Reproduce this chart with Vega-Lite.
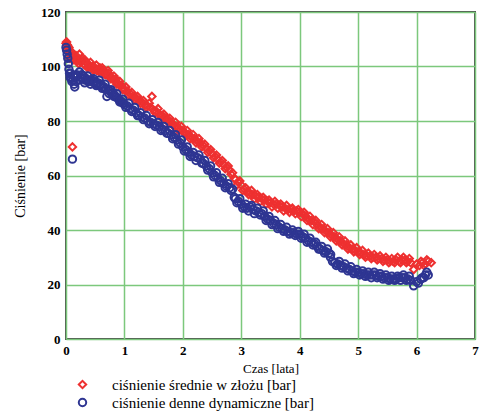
{
  "$schema": "https://vega.github.io/schema/vega-lite/v6.json",
  "width": 409,
  "height": 327,
  "autosize": {"type": "none"},
  "padding": {"left": 66, "top": 12, "right": 9, "bottom": 72},
  "background": "white",
  "config": {
    "view": {"stroke": "#4d4d4d", "strokeWidth": 2},
    "font": "'Liberation Serif', 'Times New Roman', 'DejaVu Serif', serif"
  },
  "datasets": {
    "pts": [
      {"czas":0.00,"p":108.5,"seria":"A"},{"czas":0.01,"p":109,"seria":"A"},{"czas":0.02,"p":108,"seria":"A"},{"czas":0.03,"p":107.5,"seria":"A"},{"czas":0.04,"p":106.5,"seria":"A"},{"czas":0.05,"p":107,"seria":"A"},{"czas":0.06,"p":105,"seria":"A"},{"czas":0.07,"p":103,"seria":"A"},{"czas":0.08,"p":104,"seria":"A"},{"czas":0.09,"p":105.5,"seria":"A"},{"czas":0.10,"p":103.5,"seria":"A"},{"czas":0.11,"p":70.5,"seria":"A"},{"czas":0.12,"p":104.5,"seria":"A"},{"czas":0.13,"p":102.5,"seria":"A"},{"czas":0.15,"p":103,"seria":"A"},{"czas":0.17,"p":104,"seria":"A"},{"czas":0.18,"p":102,"seria":"A"},{"czas":0.20,"p":102.5,"seria":"A"},{"czas":0.22,"p":101,"seria":"A"},{"czas":0.23,"p":104.5,"seria":"A"},{"czas":0.25,"p":101.5,"seria":"A"},{"czas":0.27,"p":103,"seria":"A"},{"czas":0.28,"p":102,"seria":"A"},{"czas":0.30,"p":101,"seria":"A"},{"czas":0.32,"p":102.5,"seria":"A"},{"czas":0.33,"p":100.5,"seria":"A"},{"czas":0.35,"p":101.5,"seria":"A"},{"czas":0.37,"p":99.5,"seria":"A"},{"czas":0.38,"p":100,"seria":"A"},{"czas":0.40,"p":100.5,"seria":"A"},{"czas":0.42,"p":101.5,"seria":"A"},{"czas":0.43,"p":99.5,"seria":"A"},{"czas":0.45,"p":100,"seria":"A"},{"czas":0.47,"p":98.5,"seria":"A"},{"czas":0.48,"p":99,"seria":"A"},{"czas":0.50,"p":99.5,"seria":"A"},{"czas":0.52,"p":100.5,"seria":"A"},{"czas":0.53,"p":98.5,"seria":"A"},{"czas":0.55,"p":99,"seria":"A"},{"czas":0.57,"p":98,"seria":"A"},{"czas":0.58,"p":99.5,"seria":"A"},{"czas":0.60,"p":98.5,"seria":"A"},{"czas":0.62,"p":99.5,"seria":"A"},{"czas":0.63,"p":98,"seria":"A"},{"czas":0.65,"p":98.5,"seria":"A"},{"czas":0.67,"p":97,"seria":"A"},{"czas":0.68,"p":97.5,"seria":"A"},{"czas":0.70,"p":97,"seria":"A"},{"czas":0.72,"p":98.5,"seria":"A"},{"czas":0.73,"p":97.5,"seria":"A"},{"czas":0.75,"p":96.5,"seria":"A"},{"czas":0.77,"p":95.5,"seria":"A"},{"czas":0.78,"p":96,"seria":"A"},{"czas":0.80,"p":95.5,"seria":"A"},{"czas":0.82,"p":96.5,"seria":"A"},{"czas":0.83,"p":95,"seria":"A"},{"czas":0.85,"p":95.5,"seria":"A"},{"czas":0.87,"p":93.5,"seria":"A"},{"czas":0.88,"p":94,"seria":"A"},{"czas":0.90,"p":93.5,"seria":"A"},{"czas":0.92,"p":94.5,"seria":"A"},{"czas":0.93,"p":93,"seria":"A"},{"czas":0.95,"p":93,"seria":"A"},{"czas":0.97,"p":91.5,"seria":"A"},{"czas":0.98,"p":92,"seria":"A"},{"czas":1.00,"p":91.5,"seria":"A"},{"czas":1.025,"p":92.5,"seria":"A"},{"czas":1.05,"p":91,"seria":"A"},{"czas":1.075,"p":89.5,"seria":"A"},{"czas":1.10,"p":90,"seria":"A"},{"czas":1.125,"p":90.5,"seria":"A"},{"czas":1.15,"p":89,"seria":"A"},{"czas":1.175,"p":88,"seria":"A"},{"czas":1.20,"p":88.5,"seria":"A"},{"czas":1.225,"p":89,"seria":"A"},{"czas":1.25,"p":87.5,"seria":"A"},{"czas":1.275,"p":86.5,"seria":"A"},{"czas":1.30,"p":87,"seria":"A"},{"czas":1.325,"p":87.5,"seria":"A"},{"czas":1.35,"p":86,"seria":"A"},{"czas":1.375,"p":85,"seria":"A"},{"czas":1.40,"p":85.5,"seria":"A"},{"czas":1.425,"p":86.5,"seria":"A"},{"czas":1.45,"p":85,"seria":"A"},{"czas":1.47,"p":89,"seria":"A"},{"czas":1.50,"p":84,"seria":"A"},{"czas":1.525,"p":83,"seria":"A"},{"czas":1.55,"p":83.5,"seria":"A"},{"czas":1.575,"p":84.5,"seria":"A"},{"czas":1.60,"p":82.5,"seria":"A"},{"czas":1.625,"p":81.5,"seria":"A"},{"czas":1.65,"p":82,"seria":"A"},{"czas":1.675,"p":82.5,"seria":"A"},{"czas":1.70,"p":81,"seria":"A"},{"czas":1.725,"p":80,"seria":"A"},{"czas":1.75,"p":80.5,"seria":"A"},{"czas":1.775,"p":81,"seria":"A"},{"czas":1.80,"p":79.5,"seria":"A"},{"czas":1.825,"p":78.5,"seria":"A"},{"czas":1.85,"p":78.5,"seria":"A"},{"czas":1.875,"p":79.5,"seria":"A"},{"czas":1.90,"p":78,"seria":"A"},{"czas":1.925,"p":76.5,"seria":"A"},{"czas":1.95,"p":77,"seria":"A"},{"czas":1.975,"p":78,"seria":"A"},{"czas":2.00,"p":76.5,"seria":"A"},{"czas":2.025,"p":75.5,"seria":"A"},{"czas":2.05,"p":75.5,"seria":"A"},{"czas":2.075,"p":76.5,"seria":"A"},{"czas":2.10,"p":75,"seria":"A"},{"czas":2.125,"p":73.5,"seria":"A"},{"czas":2.15,"p":74,"seria":"A"},{"czas":2.175,"p":75,"seria":"A"},{"czas":2.20,"p":73.5,"seria":"A"},{"czas":2.225,"p":72,"seria":"A"},{"czas":2.25,"p":72.5,"seria":"A"},{"czas":2.275,"p":73.5,"seria":"A"},{"czas":2.30,"p":72,"seria":"A"},{"czas":2.325,"p":70.5,"seria":"A"},{"czas":2.35,"p":71,"seria":"A"},{"czas":2.375,"p":71.5,"seria":"A"},{"czas":2.40,"p":70,"seria":"A"},{"czas":2.425,"p":68.5,"seria":"A"},{"czas":2.45,"p":69,"seria":"A"},{"czas":2.475,"p":69.5,"seria":"A"},{"czas":2.50,"p":68,"seria":"A"},{"czas":2.525,"p":66.5,"seria":"A"},{"czas":2.55,"p":67,"seria":"A"},{"czas":2.575,"p":67.5,"seria":"A"},{"czas":2.60,"p":66,"seria":"A"},{"czas":2.625,"p":64.5,"seria":"A"},{"czas":2.65,"p":65,"seria":"A"},{"czas":2.675,"p":65.5,"seria":"A"},{"czas":2.70,"p":64,"seria":"A"},{"czas":2.725,"p":62.5,"seria":"A"},{"czas":2.75,"p":63,"seria":"A"},{"czas":2.775,"p":63.5,"seria":"A"},{"czas":2.80,"p":62,"seria":"A"},{"czas":2.825,"p":60.5,"seria":"A"},{"czas":2.85,"p":61,"seria":"A"},{"czas":2.88,"p":59,"seria":"A"},{"czas":2.90,"p":58.5,"seria":"A"},{"czas":2.925,"p":56.5,"seria":"A"},{"czas":2.95,"p":57.5,"seria":"A"},{"czas":2.975,"p":58,"seria":"A"},{"czas":3.00,"p":56.5,"seria":"A"},{"czas":3.025,"p":54.5,"seria":"A"},{"czas":3.05,"p":55,"seria":"A"},{"czas":3.075,"p":55.5,"seria":"A"},{"czas":3.10,"p":54,"seria":"A"},{"czas":3.125,"p":53,"seria":"A"},{"czas":3.15,"p":53.5,"seria":"A"},{"czas":3.175,"p":54.5,"seria":"A"},{"czas":3.20,"p":53,"seria":"A"},{"czas":3.225,"p":51.5,"seria":"A"},{"czas":3.25,"p":52.5,"seria":"A"},{"czas":3.275,"p":53,"seria":"A"},{"czas":3.30,"p":52,"seria":"A"},{"czas":3.325,"p":50.5,"seria":"A"},{"czas":3.35,"p":51.5,"seria":"A"},{"czas":3.375,"p":52,"seria":"A"},{"czas":3.40,"p":51,"seria":"A"},{"czas":3.425,"p":49.5,"seria":"A"},{"czas":3.45,"p":50.5,"seria":"A"},{"czas":3.475,"p":51,"seria":"A"},{"czas":3.50,"p":50,"seria":"A"},{"czas":3.525,"p":48.5,"seria":"A"},{"czas":3.55,"p":49.5,"seria":"A"},{"czas":3.575,"p":50.5,"seria":"A"},{"czas":3.60,"p":49.5,"seria":"A"},{"czas":3.625,"p":48,"seria":"A"},{"czas":3.65,"p":49,"seria":"A"},{"czas":3.675,"p":49.5,"seria":"A"},{"czas":3.70,"p":48.5,"seria":"A"},{"czas":3.725,"p":47,"seria":"A"},{"czas":3.75,"p":48,"seria":"A"},{"czas":3.775,"p":49,"seria":"A"},{"czas":3.80,"p":47.5,"seria":"A"},{"czas":3.825,"p":46.5,"seria":"A"},{"czas":3.85,"p":47.5,"seria":"A"},{"czas":3.875,"p":48,"seria":"A"},{"czas":3.90,"p":47,"seria":"A"},{"czas":3.925,"p":46,"seria":"A"},{"czas":3.95,"p":47,"seria":"A"},{"czas":3.975,"p":47.5,"seria":"A"},{"czas":4.00,"p":46.5,"seria":"A"},{"czas":4.025,"p":45,"seria":"A"},{"czas":4.05,"p":46,"seria":"A"},{"czas":4.075,"p":46.5,"seria":"A"},{"czas":4.10,"p":45,"seria":"A"},{"czas":4.125,"p":43.5,"seria":"A"},{"czas":4.15,"p":44,"seria":"A"},{"czas":4.175,"p":45,"seria":"A"},{"czas":4.20,"p":43.5,"seria":"A"},{"czas":4.225,"p":42,"seria":"A"},{"czas":4.25,"p":43,"seria":"A"},{"czas":4.275,"p":43.5,"seria":"A"},{"czas":4.30,"p":42,"seria":"A"},{"czas":4.325,"p":40.5,"seria":"A"},{"czas":4.35,"p":41,"seria":"A"},{"czas":4.375,"p":42,"seria":"A"},{"czas":4.40,"p":40.5,"seria":"A"},{"czas":4.425,"p":39,"seria":"A"},{"czas":4.45,"p":39.5,"seria":"A"},{"czas":4.475,"p":40.5,"seria":"A"},{"czas":4.50,"p":39,"seria":"A"},{"czas":4.525,"p":37.5,"seria":"A"},{"czas":4.55,"p":38,"seria":"A"},{"czas":4.575,"p":39,"seria":"A"},{"czas":4.60,"p":37.5,"seria":"A"},{"czas":4.625,"p":36,"seria":"A"},{"czas":4.65,"p":36.5,"seria":"A"},{"czas":4.675,"p":37.5,"seria":"A"},{"czas":4.70,"p":36,"seria":"A"},{"czas":4.725,"p":34.5,"seria":"A"},{"czas":4.75,"p":35,"seria":"A"},{"czas":4.775,"p":36,"seria":"A"},{"czas":4.80,"p":34.5,"seria":"A"},{"czas":4.825,"p":33,"seria":"A"},{"czas":4.85,"p":33.5,"seria":"A"},{"czas":4.875,"p":34.5,"seria":"A"},{"czas":4.90,"p":33,"seria":"A"},{"czas":4.925,"p":32,"seria":"A"},{"czas":4.95,"p":32.5,"seria":"A"},{"czas":4.975,"p":33.5,"seria":"A"},{"czas":5.00,"p":32,"seria":"A"},{"czas":5.025,"p":31,"seria":"A"},{"czas":5.05,"p":31.5,"seria":"A"},{"czas":5.075,"p":32.5,"seria":"A"},{"czas":5.10,"p":31,"seria":"A"},{"czas":5.125,"p":30,"seria":"A"},{"czas":5.15,"p":30.5,"seria":"A"},{"czas":5.175,"p":31.5,"seria":"A"},{"czas":5.20,"p":30.5,"seria":"A"},{"czas":5.225,"p":29.5,"seria":"A"},{"czas":5.25,"p":30,"seria":"A"},{"czas":5.275,"p":31,"seria":"A"},{"czas":5.30,"p":30,"seria":"A"},{"czas":5.325,"p":29,"seria":"A"},{"czas":5.35,"p":29.5,"seria":"A"},{"czas":5.375,"p":30.5,"seria":"A"},{"czas":5.40,"p":29.5,"seria":"A"},{"czas":5.425,"p":28.5,"seria":"A"},{"czas":5.45,"p":29,"seria":"A"},{"czas":5.475,"p":30,"seria":"A"},{"czas":5.50,"p":29,"seria":"A"},{"czas":5.525,"p":28,"seria":"A"},{"czas":5.55,"p":28.5,"seria":"A"},{"czas":5.575,"p":29.5,"seria":"A"},{"czas":5.60,"p":28.5,"seria":"A"},{"czas":5.625,"p":28,"seria":"A"},{"czas":5.65,"p":29,"seria":"A"},{"czas":5.675,"p":30,"seria":"A"},{"czas":5.70,"p":28.5,"seria":"A"},{"czas":5.725,"p":28,"seria":"A"},{"czas":5.75,"p":29,"seria":"A"},{"czas":5.775,"p":30,"seria":"A"},{"czas":5.80,"p":29,"seria":"A"},{"czas":5.825,"p":28,"seria":"A"},{"czas":5.85,"p":28.5,"seria":"A"},{"czas":5.875,"p":29.5,"seria":"A"},{"czas":5.90,"p":28,"seria":"A"},{"czas":5.95,"p":25.5,"seria":"A"},{"czas":6.00,"p":27.5,"seria":"A"},{"czas":6.05,"p":27,"seria":"A"},{"czas":6.075,"p":28.5,"seria":"A"},{"czas":6.10,"p":28,"seria":"A"},{"czas":6.125,"p":27,"seria":"A"},{"czas":6.15,"p":27.5,"seria":"A"},{"czas":6.175,"p":29,"seria":"A"},{"czas":6.20,"p":28.5,"seria":"A"},{"czas":6.25,"p":28,"seria":"A"},
      {"czas":0.00,"p":107,"seria":"B"},{"czas":0.01,"p":106,"seria":"B"},{"czas":0.02,"p":104.5,"seria":"B"},{"czas":0.03,"p":103,"seria":"B"},{"czas":0.04,"p":101,"seria":"B"},{"czas":0.05,"p":99,"seria":"B"},{"czas":0.06,"p":97.5,"seria":"B"},{"czas":0.07,"p":96,"seria":"B"},{"czas":0.08,"p":97.5,"seria":"B"},{"czas":0.09,"p":95.5,"seria":"B"},{"czas":0.10,"p":94.5,"seria":"B"},{"czas":0.11,"p":66,"seria":"B"},{"czas":0.12,"p":95,"seria":"B"},{"czas":0.13,"p":96.5,"seria":"B"},{"czas":0.14,"p":93.5,"seria":"B"},{"czas":0.15,"p":92.5,"seria":"B"},{"czas":0.16,"p":96,"seria":"B"},{"czas":0.17,"p":94.5,"seria":"B"},{"czas":0.18,"p":97,"seria":"B"},{"czas":0.20,"p":96.5,"seria":"B"},{"czas":0.22,"p":95,"seria":"B"},{"czas":0.23,"p":98,"seria":"B"},{"czas":0.25,"p":96,"seria":"B"},{"czas":0.27,"p":97,"seria":"B"},{"czas":0.28,"p":95.5,"seria":"B"},{"czas":0.30,"p":96.5,"seria":"B"},{"czas":0.32,"p":94,"seria":"B"},{"czas":0.33,"p":95,"seria":"B"},{"czas":0.35,"p":95.5,"seria":"B"},{"czas":0.37,"p":96.5,"seria":"B"},{"czas":0.38,"p":94.5,"seria":"B"},{"czas":0.40,"p":95,"seria":"B"},{"czas":0.42,"p":93.5,"seria":"B"},{"czas":0.43,"p":94.5,"seria":"B"},{"czas":0.45,"p":95,"seria":"B"},{"czas":0.47,"p":95.5,"seria":"B"},{"czas":0.48,"p":94,"seria":"B"},{"czas":0.50,"p":94.5,"seria":"B"},{"czas":0.52,"p":93,"seria":"B"},{"czas":0.53,"p":93.5,"seria":"B"},{"czas":0.55,"p":94,"seria":"B"},{"czas":0.57,"p":95,"seria":"B"},{"czas":0.58,"p":93,"seria":"B"},{"czas":0.60,"p":93.5,"seria":"B"},{"czas":0.62,"p":92,"seria":"B"},{"czas":0.63,"p":92.5,"seria":"B"},{"czas":0.65,"p":92.5,"seria":"B"},{"czas":0.67,"p":93.5,"seria":"B"},{"czas":0.68,"p":91.5,"seria":"B"},{"czas":0.70,"p":89,"seria":"B"},{"czas":0.72,"p":91.5,"seria":"B"},{"czas":0.74,"p":90,"seria":"B"},{"czas":0.75,"p":91,"seria":"B"},{"czas":0.77,"p":91.5,"seria":"B"},{"czas":0.78,"p":90,"seria":"B"},{"czas":0.80,"p":90.5,"seria":"B"},{"czas":0.82,"p":89,"seria":"B"},{"czas":0.83,"p":89.5,"seria":"B"},{"czas":0.85,"p":89,"seria":"B"},{"czas":0.87,"p":90,"seria":"B"},{"czas":0.88,"p":88.5,"seria":"B"},{"czas":0.90,"p":88,"seria":"B"},{"czas":0.92,"p":87,"seria":"B"},{"czas":0.93,"p":87.5,"seria":"B"},{"czas":0.95,"p":87,"seria":"B"},{"czas":0.97,"p":88,"seria":"B"},{"czas":0.98,"p":86.5,"seria":"B"},{"czas":1.00,"p":86,"seria":"B"},{"czas":1.025,"p":85,"seria":"B"},{"czas":1.05,"p":85.5,"seria":"B"},{"czas":1.075,"p":86.5,"seria":"B"},{"czas":1.10,"p":84.5,"seria":"B"},{"czas":1.125,"p":83.5,"seria":"B"},{"czas":1.15,"p":84,"seria":"B"},{"czas":1.175,"p":85,"seria":"B"},{"czas":1.20,"p":83,"seria":"B"},{"czas":1.225,"p":82,"seria":"B"},{"czas":1.25,"p":82,"seria":"B"},{"czas":1.275,"p":83,"seria":"B"},{"czas":1.30,"p":81.5,"seria":"B"},{"czas":1.325,"p":80.5,"seria":"B"},{"czas":1.35,"p":81,"seria":"B"},{"czas":1.375,"p":82,"seria":"B"},{"czas":1.40,"p":80,"seria":"B"},{"czas":1.425,"p":79,"seria":"B"},{"czas":1.45,"p":79.5,"seria":"B"},{"czas":1.475,"p":80.5,"seria":"B"},{"czas":1.50,"p":79,"seria":"B"},{"czas":1.525,"p":78,"seria":"B"},{"czas":1.55,"p":78.5,"seria":"B"},{"czas":1.575,"p":79.5,"seria":"B"},{"czas":1.60,"p":78,"seria":"B"},{"czas":1.625,"p":76.5,"seria":"B"},{"czas":1.65,"p":77,"seria":"B"},{"czas":1.675,"p":78,"seria":"B"},{"czas":1.70,"p":76.5,"seria":"B"},{"czas":1.725,"p":75.5,"seria":"B"},{"czas":1.75,"p":75.5,"seria":"B"},{"czas":1.775,"p":76.5,"seria":"B"},{"czas":1.80,"p":75,"seria":"B"},{"czas":1.825,"p":73.5,"seria":"B"},{"czas":1.85,"p":74,"seria":"B"},{"czas":1.875,"p":75,"seria":"B"},{"czas":1.90,"p":73,"seria":"B"},{"czas":1.925,"p":71.5,"seria":"B"},{"czas":1.95,"p":72,"seria":"B"},{"czas":1.975,"p":73,"seria":"B"},{"czas":2.00,"p":70.5,"seria":"B"},{"czas":2.025,"p":69,"seria":"B"},{"czas":2.05,"p":69.5,"seria":"B"},{"czas":2.075,"p":70.5,"seria":"B"},{"czas":2.10,"p":68.5,"seria":"B"},{"czas":2.125,"p":67,"seria":"B"},{"czas":2.15,"p":67.5,"seria":"B"},{"czas":2.175,"p":68.5,"seria":"B"},{"czas":2.20,"p":67,"seria":"B"},{"czas":2.225,"p":65.5,"seria":"B"},{"czas":2.25,"p":66.5,"seria":"B"},{"czas":2.275,"p":67.5,"seria":"B"},{"czas":2.30,"p":66,"seria":"B"},{"czas":2.325,"p":64.5,"seria":"B"},{"czas":2.35,"p":64.5,"seria":"B"},{"czas":2.375,"p":65.5,"seria":"B"},{"czas":2.40,"p":63.5,"seria":"B"},{"czas":2.425,"p":62,"seria":"B"},{"czas":2.45,"p":62.5,"seria":"B"},{"czas":2.475,"p":63.5,"seria":"B"},{"czas":2.50,"p":61,"seria":"B"},{"czas":2.525,"p":59.5,"seria":"B"},{"czas":2.55,"p":60,"seria":"B"},{"czas":2.575,"p":61,"seria":"B"},{"czas":2.60,"p":59,"seria":"B"},{"czas":2.625,"p":57.5,"seria":"B"},{"czas":2.65,"p":58,"seria":"B"},{"czas":2.675,"p":59,"seria":"B"},{"czas":2.70,"p":57,"seria":"B"},{"czas":2.725,"p":55.5,"seria":"B"},{"czas":2.75,"p":56,"seria":"B"},{"czas":2.775,"p":57,"seria":"B"},{"czas":2.80,"p":55.5,"seria":"B"},{"czas":2.825,"p":54.5,"seria":"B"},{"czas":2.85,"p":55,"seria":"B"},{"czas":2.88,"p":52,"seria":"B"},{"czas":2.90,"p":51.5,"seria":"B"},{"czas":2.925,"p":50,"seria":"B"},{"czas":2.95,"p":50.5,"seria":"B"},{"czas":2.975,"p":51.5,"seria":"B"},{"czas":3.00,"p":49.5,"seria":"B"},{"czas":3.025,"p":48,"seria":"B"},{"czas":3.05,"p":48.5,"seria":"B"},{"czas":3.075,"p":49.5,"seria":"B"},{"czas":3.10,"p":48,"seria":"B"},{"czas":3.125,"p":47,"seria":"B"},{"czas":3.15,"p":48.5,"seria":"B"},{"czas":3.175,"p":49,"seria":"B"},{"czas":3.20,"p":47.5,"seria":"B"},{"czas":3.225,"p":46,"seria":"B"},{"czas":3.25,"p":47,"seria":"B"},{"czas":3.275,"p":48,"seria":"B"},{"czas":3.30,"p":46.5,"seria":"B"},{"czas":3.325,"p":45.5,"seria":"B"},{"czas":3.35,"p":46,"seria":"B"},{"czas":3.375,"p":47,"seria":"B"},{"czas":3.40,"p":45,"seria":"B"},{"czas":3.425,"p":43.5,"seria":"B"},{"czas":3.45,"p":44,"seria":"B"},{"czas":3.475,"p":45,"seria":"B"},{"czas":3.50,"p":43.5,"seria":"B"},{"czas":3.525,"p":42,"seria":"B"},{"czas":3.55,"p":42.5,"seria":"B"},{"czas":3.575,"p":43.5,"seria":"B"},{"czas":3.60,"p":42,"seria":"B"},{"czas":3.625,"p":40.5,"seria":"B"},{"czas":3.65,"p":41,"seria":"B"},{"czas":3.675,"p":42,"seria":"B"},{"czas":3.70,"p":40.5,"seria":"B"},{"czas":3.725,"p":39.5,"seria":"B"},{"czas":3.75,"p":40,"seria":"B"},{"czas":3.775,"p":41,"seria":"B"},{"czas":3.80,"p":39.5,"seria":"B"},{"czas":3.825,"p":38.5,"seria":"B"},{"czas":3.85,"p":39,"seria":"B"},{"czas":3.875,"p":40,"seria":"B"},{"czas":3.90,"p":39,"seria":"B"},{"czas":3.925,"p":38,"seria":"B"},{"czas":3.95,"p":38.5,"seria":"B"},{"czas":3.975,"p":39.5,"seria":"B"},{"czas":4.00,"p":38.5,"seria":"B"},{"czas":4.025,"p":37,"seria":"B"},{"czas":4.05,"p":37.5,"seria":"B"},{"czas":4.075,"p":38.5,"seria":"B"},{"czas":4.10,"p":37,"seria":"B"},{"czas":4.125,"p":35.5,"seria":"B"},{"czas":4.15,"p":36,"seria":"B"},{"czas":4.175,"p":37,"seria":"B"},{"czas":4.20,"p":35.5,"seria":"B"},{"czas":4.225,"p":34.5,"seria":"B"},{"czas":4.25,"p":35,"seria":"B"},{"czas":4.275,"p":35.5,"seria":"B"},{"czas":4.30,"p":34,"seria":"B"},{"czas":4.325,"p":33,"seria":"B"},{"czas":4.35,"p":33,"seria":"B"},{"czas":4.375,"p":34,"seria":"B"},{"czas":4.40,"p":32.5,"seria":"B"},{"czas":4.425,"p":31.5,"seria":"B"},{"czas":4.45,"p":32,"seria":"B"},{"czas":4.475,"p":33,"seria":"B"},{"czas":4.50,"p":31.5,"seria":"B"},{"czas":4.525,"p":30,"seria":"B"},{"czas":4.53,"p":31,"seria":"B"},{"czas":4.56,"p":28.5,"seria":"B"},{"czas":4.60,"p":28,"seria":"B"},{"czas":4.625,"p":27,"seria":"B"},{"czas":4.65,"p":27.5,"seria":"B"},{"czas":4.675,"p":28.5,"seria":"B"},{"czas":4.70,"p":27,"seria":"B"},{"czas":4.725,"p":26,"seria":"B"},{"czas":4.75,"p":26.5,"seria":"B"},{"czas":4.775,"p":27.5,"seria":"B"},{"czas":4.80,"p":26,"seria":"B"},{"czas":4.825,"p":25,"seria":"B"},{"czas":4.85,"p":25.5,"seria":"B"},{"czas":4.875,"p":26.5,"seria":"B"},{"czas":4.90,"p":25,"seria":"B"},{"czas":4.925,"p":24,"seria":"B"},{"czas":4.95,"p":24.5,"seria":"B"},{"czas":4.975,"p":25.5,"seria":"B"},{"czas":5.00,"p":24.5,"seria":"B"},{"czas":5.025,"p":23.5,"seria":"B"},{"czas":5.05,"p":24,"seria":"B"},{"czas":5.075,"p":25,"seria":"B"},{"czas":5.10,"p":24,"seria":"B"},{"czas":5.125,"p":23,"seria":"B"},{"czas":5.15,"p":23.5,"seria":"B"},{"czas":5.175,"p":24.5,"seria":"B"},{"czas":5.20,"p":23.5,"seria":"B"},{"czas":5.225,"p":22.5,"seria":"B"},{"czas":5.25,"p":23.5,"seria":"B"},{"czas":5.275,"p":24.5,"seria":"B"},{"czas":5.30,"p":23.5,"seria":"B"},{"czas":5.325,"p":22.5,"seria":"B"},{"czas":5.35,"p":23,"seria":"B"},{"czas":5.375,"p":24,"seria":"B"},{"czas":5.40,"p":23,"seria":"B"},{"czas":5.425,"p":22,"seria":"B"},{"czas":5.45,"p":22.5,"seria":"B"},{"czas":5.475,"p":23.5,"seria":"B"},{"czas":5.50,"p":22.5,"seria":"B"},{"czas":5.525,"p":21.5,"seria":"B"},{"czas":5.55,"p":22,"seria":"B"},{"czas":5.575,"p":23,"seria":"B"},{"czas":5.60,"p":22,"seria":"B"},{"czas":5.625,"p":21.5,"seria":"B"},{"czas":5.65,"p":22,"seria":"B"},{"czas":5.675,"p":23,"seria":"B"},{"czas":5.70,"p":22.5,"seria":"B"},{"czas":5.725,"p":21.5,"seria":"B"},{"czas":5.75,"p":22.5,"seria":"B"},{"czas":5.775,"p":23.5,"seria":"B"},{"czas":5.80,"p":22.5,"seria":"B"},{"czas":5.825,"p":21.5,"seria":"B"},{"czas":5.85,"p":22,"seria":"B"},{"czas":5.875,"p":23,"seria":"B"},{"czas":5.90,"p":21.5,"seria":"B"},{"czas":5.95,"p":19.5,"seria":"B"},{"czas":6.00,"p":21,"seria":"B"},{"czas":6.03,"p":20.5,"seria":"B"},{"czas":6.07,"p":22,"seria":"B"},{"czas":6.10,"p":22.5,"seria":"B"},{"czas":6.125,"p":22.5,"seria":"B"},{"czas":6.15,"p":23.5,"seria":"B"},{"czas":6.175,"p":24.5,"seria":"B"},{"czas":6.20,"p":23.5,"seria":"B"}
    ]
  },
  "data": {"name": "pts"},
  "mark": {"type": "point", "filled": false, "strokeWidth": 2, "size": 55, "opacity": 1},
  "encoding": {
    "x": {
      "field": "czas", "type": "quantitative",
      "scale": {"domain": [0, 7], "nice": false},
      "axis": {
        "values": [0, 1, 2, 3, 4, 5, 6, 7],
        "title": "Czas [lata]",
        "grid": true, "gridColor": "#7cc87c", "gridWidth": 1.5,
        "domain": false, "ticks": false,
        "labelFont": "'Liberation Serif', 'Times New Roman', 'DejaVu Serif', serif", "labelFontWeight": "bold", "labelFontSize": 13, "labelColor": "#000",
        "labelPadding": 5, "labelFlush": false,
        "titleFont": "'Liberation Serif', 'Times New Roman', 'DejaVu Serif', serif", "titleFontWeight": "normal", "titleFontSize": 13, "titleColor": "#000",
        "titlePadding": 5
      }
    },
    "y": {
      "field": "p", "type": "quantitative",
      "scale": {"domain": [0, 120], "nice": false},
      "axis": {
        "values": [0, 20, 40, 60, 80, 100, 120],
        "title": "Ciśnienie [bar]",
        "grid": true, "gridColor": "#7cc87c", "gridWidth": 1.5,
        "domain": false, "ticks": false,
        "labelFont": "'Liberation Serif', 'Times New Roman', 'DejaVu Serif', serif", "labelFontWeight": "bold", "labelFontSize": 13, "labelColor": "#000",
        "labelPadding": 6, "labelFlush": false,
        "titleFont": "'Liberation Serif', 'Times New Roman', 'DejaVu Serif', serif", "titleFontWeight": "normal", "titleFontSize": 14, "titleColor": "#000",
        "titlePadding": 13
      }
    },
    "color": {
      "field": "seria", "type": "nominal",
      "scale": {"domain": ["A", "B"], "range": ["#ee3030", "#2e3592"]},
      "legend": {
        "orient": "none", "legendX": 9, "legendY": 365, "title": null, "padding": 0,
        "labelExpr": "datum.value == 'A' ? 'ciśnienie średnie w złożu [bar]' : 'ciśnienie denne dynamiczne [bar]'",
        "labelFont": "'Liberation Serif', 'Times New Roman', 'DejaVu Serif', serif", "labelFontSize": 15, "labelColor": "#000", "labelLimit": 400,
        "symbolSize": 55, "symbolStrokeWidth": 2, "rowPadding": 1, "labelOffset": 22
      }
    },
    "shape": {
      "field": "seria", "type": "nominal",
      "scale": {"domain": ["A", "B"], "range": ["diamond", "circle"]}
    }
  }
}
